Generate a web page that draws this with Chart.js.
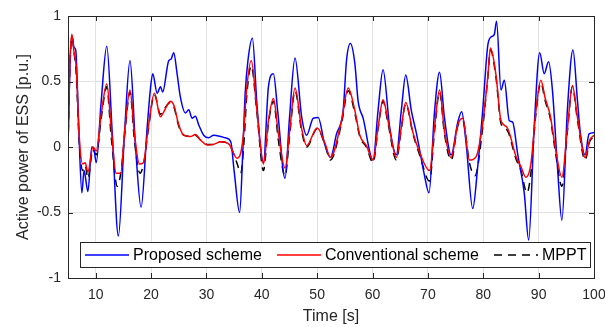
<!DOCTYPE html>
<html>
<head>
<meta charset="utf-8">
<script src="https://cdn.jsdelivr.net/npm/chart.js@4.4.1/dist/chart.umd.min.js"></script>
<style>
  html, body { margin: 0; padding: 0; background: #fff; }
  #wrap { width: 605px; height: 327px; }
</style>
</head>
<body>
<div id="wrap"><canvas id="essChart" width="605" height="327"></canvas></div>
<script>
// values
const xTicks = [10, 20, 30, 40, 50, 60, 70, 80, 90, 100];
const yTicks = [-1, -0.5, 0, 0.5, 1];

const proposedT = [5.0, 5.3, 5.7, 6.1, 6.4, 6.9, 7.5, 7.9, 8.6, 9.3, 9.7, 10.1, 11.0, 12.0, 13.0, 14.1, 15.2, 16.2, 17.2, 18.2,
  19.3, 19.9, 20.3, 21.1, 21.7, 22.1, 23.2, 23.6, 24.1, 24.7, 25.3, 26.2, 26.8, 27.4, 28.0, 28.6, 29.5, 30.4, 31.3, 32.6,
  33.4, 34.4, 35.0, 36.0, 36.6, 37.0, 37.5, 38.3, 39.1, 39.7, 40.3, 41.2, 42.1, 42.9, 44.2, 45.0, 46.0, 47.2, 48.1, 49.3,
  50.2, 51.3, 52.4, 53.5, 54.7, 55.3, 56.0, 56.8, 57.4, 58.3, 60.1, 61.0, 61.9, 63.1, 64.3, 65.2, 66.0, 67.0, 67.9, 68.5,
  69.3, 70.2, 71.2, 72.1, 73.0, 74.2, 75.4, 76.1, 76.9, 78.1, 79.0, 79.9, 80.8, 81.4, 82.0, 82.4, 83.2, 83.8, 84.7, 85.3,
  86.2, 87.4, 88.2, 89.2, 90.2, 91.0, 91.8, 92.5, 93.4, 94.2, 95.2, 96.2, 97.0, 97.5, 98.4, 99.1, 100.0];
const proposedP = [0.0, 0.55, 0.85, 0.76, 0.74, 0.2, -0.35, -0.18, -0.34, 0.0, -0.02, -0.12, 0.35, 0.77, 0.1, -0.68, 0.1, 0.66, 0.0, -0.46,
  0.15, 0.45, 0.56, 0.41, 0.46, 0.42, 0.66, 0.67, 0.72, 0.56, 0.38, 0.26, 0.285, 0.22, 0.235, 0.17, 0.09, 0.07, 0.09, 0.08,
  0.07, 0.04, -0.18, -0.5, 0.0, 0.41, 0.66, 0.83, 0.34, 0.03, -0.12, 0.46, 0.56, 0.26, -0.24, 0.22, 0.68, 0.23, 0.09, 0.22,
  0.225, 0.03, -0.08, 0.1, 0.28, 0.66, 0.79, 0.64, 0.35, 0.22, -0.1, 0.28, 0.59, 0.15, -0.06, 0.28, 0.55, 0.28, 0.11, -0.02,
  -0.2, -0.35, 0.27, 0.57, 0.22, -0.06, 0.19, 0.27, 0.03, -0.47, -0.15, 0.28, 0.77, 0.84, 0.86, 0.96, 0.435, 0.51, 0.2, 0.19,
  -0.05, -0.35, -0.71, 0.155, 0.72, 0.56, 0.65, 0.43, -0.15, -0.56, 0.29, 0.74, 0.36, 0.12, -0.06, 0.1, 0.11];

const conventionalT = [5.0, 5.3, 5.7, 6.1, 6.5, 7.0, 7.65, 8.1, 8.6, 9.5, 10.1, 11.0, 12.0, 12.8, 13.7, 14.5, 15.3, 16.2, 17.0, 17.9,
  18.6, 19.5, 20.6, 21.7, 22.2, 23.5, 24.1, 25.0, 25.9, 27.1, 28.0, 29.0, 30.2, 31.3, 32.6, 34.1, 35.5, 36.0, 36.7, 37.2,
  38.1, 39.1, 40.3, 41.2, 42.1, 43.0, 44.2, 45.1, 46.0, 47.2, 48.1, 50.0, 51.4, 52.4, 54.4, 55.6, 56.8, 57.7, 58.9, 60.1,
  61.0, 61.9, 62.8, 64.3, 65.2, 66.0, 67.3, 68.5, 70.3, 71.2, 72.1, 73.0, 74.2, 75.4, 76.3, 77.5, 78.7, 79.9, 80.8, 81.3,
  82.3, 83.2, 84.3, 85.9, 86.8, 87.7, 88.6, 89.5, 90.4, 91.2, 92.1, 93.0, 94.2, 95.2, 96.1, 97.0, 98.4, 99.2, 100.0];
const conventionalP = [0.0, 0.6, 0.86, 0.72, 0.6, 0.1, -0.13, -0.12, -0.19, 0.0, -0.03, 0.25, 0.48, 0.15, -0.2, -0.2, 0.15, 0.435, 0.1, -0.13,
  -0.12, 0.15, 0.41, 0.23, 0.26, 0.35, 0.32, 0.17, 0.09, 0.08, 0.095, 0.05, 0.015, 0.02, 0.04, 0.02, -0.085, -0.07, 0.1, 0.41,
  0.66, 0.29, -0.13, 0.2, 0.37, 0.1, -0.16, 0.15, 0.45, 0.14, 0.01, 0.145, 0.03, -0.08, 0.2, 0.45, 0.28, 0.09, 0.01, -0.1,
  0.15, 0.36, 0.2, -0.08, 0.15, 0.34, 0.11, -0.04, -0.18, 0.15, 0.435, 0.12, -0.08, 0.17, 0.22, -0.1, -0.075, 0.18, 0.53, 0.755,
  0.55, 0.2, 0.15, -0.07, -0.15, -0.23, -0.13, 0.27, 0.51, 0.37, 0.24, 0.0, -0.23, 0.14, 0.47, 0.23, -0.08, 0.05, 0.09];

const mpptT = [5.0, 5.3, 5.7, 6.1, 6.5, 7.0, 7.65, 8.1, 8.6, 9.5, 10.1, 11.0, 12.0, 12.8, 13.9, 14.6, 15.3, 16.2, 17.0, 18.0,
  18.7, 19.5, 20.6, 21.7, 22.2, 23.5, 24.1, 25.0, 25.9, 27.1, 28.0, 29.0, 30.2, 31.3, 32.6, 34.1, 35.5, 36.2, 36.8, 37.3,
  38.1, 39.1, 40.3, 41.2, 42.1, 43.0, 44.2, 45.1, 46.0, 47.2, 48.1, 50.0, 51.4, 52.4, 54.4, 55.6, 56.8, 57.7, 58.9, 60.1,
  61.0, 61.9, 62.8, 64.3, 65.2, 66.0, 67.3, 68.5, 70.3, 71.2, 72.1, 73.0, 74.2, 75.4, 76.3, 77.5, 78.5, 79.9, 80.8, 81.3,
  82.3, 83.2, 84.3, 85.9, 86.8, 87.9, 88.6, 89.5, 90.4, 91.2, 92.1, 93.0, 94.2, 95.2, 96.1, 97.0, 98.4, 99.2, 100.0];
const mpptP = [0.0, 0.55, 0.84, 0.72, 0.55, 0.05, -0.18, -0.14, -0.24, -0.02, -0.06, 0.22, 0.46, 0.08, -0.3, -0.18, 0.12, 0.42, 0.05, -0.2,
  -0.12, 0.13, 0.4, 0.25, 0.28, 0.34, 0.31, 0.16, 0.09, 0.08, 0.09, 0.05, 0.02, 0.02, 0.04, 0.02, -0.12, -0.2, 0.05, 0.4,
  0.62, 0.27, -0.18, 0.18, 0.35, 0.05, -0.22, 0.12, 0.43, 0.12, 0.0, 0.14, 0.02, -0.1, 0.18, 0.43, 0.26, 0.08, 0.0, -0.12,
  0.14, 0.35, 0.18, -0.1, 0.14, 0.33, 0.1, -0.06, -0.26, 0.12, 0.42, 0.1, -0.1, 0.16, 0.2, -0.12, -0.22, 0.15, 0.52, 0.74,
  0.53, 0.18, 0.13, -0.09, -0.18, -0.35, -0.2, 0.25, 0.49, 0.35, 0.22, -0.03, -0.3, 0.12, 0.46, 0.21, -0.1, 0.04, 0.08];

function pts(t, v) {
  return t.map((x, i) => ({ x: x, y: v[i] }));
}

const axisColor = '#262626';
const fontFam = '"Liberation Sans", Arial, sans-serif';

// matlab style box, inward ticks and legend inside the axes
const matlabBox = {
  id: 'matlabBox',
  afterDraw(chart) {
    const ctx = chart.ctx;
    const a = chart.chartArea;
    const xs = chart.scales.x, ys = chart.scales.y;
    ctx.save();
    ctx.strokeStyle = axisColor;
    ctx.lineWidth = 1;
    ctx.beginPath();
    xTicks.forEach(v => {
      const px = Math.round(xs.getPixelForValue(v)) + 0.5;
      ctx.moveTo(px, a.bottom); ctx.lineTo(px, a.bottom - 5);
      ctx.moveTo(px, a.top); ctx.lineTo(px, a.top + 5);
    });
    yTicks.forEach(v => {
      const py = Math.round(ys.getPixelForValue(v)) + 0.5;
      ctx.moveTo(a.left, py); ctx.lineTo(a.left + 5, py);
      ctx.moveTo(a.right, py); ctx.lineTo(a.right - 5, py);
    });
    ctx.stroke();
    ctx.strokeRect(Math.round(a.left) + 0.5, Math.round(a.top) + 0.5,
      Math.round(a.right - a.left), Math.round(a.bottom - a.top));

    // legend box
    const lx = 80, ly = 242, lw = 510, lh = 25;
    ctx.fillStyle = '#fff';
    ctx.fillRect(lx, ly, lw, lh);
    ctx.strokeRect(lx + 0.5, ly + 0.5, lw, lh);
    const starts = [85, 277, 494];
    ctx.font = '16px ' + fontFam;
    ctx.textBaseline = 'middle';
    chart.data.datasets.forEach((ds, i) => {
      const sx = starts[i], cy = ly + lh / 2 + 0.5;
      ctx.strokeStyle = ds.borderColor;
      ctx.lineWidth = 1.5;
      ctx.setLineDash(ds.borderDash || []);
      ctx.beginPath();
      ctx.moveTo(sx, cy); ctx.lineTo(sx + 44, cy);
      ctx.stroke();
      ctx.setLineDash([]);
      ctx.fillStyle = '#000';
      ctx.fillText(ds.label, sx + 48, cy + 1);
    });
    ctx.restore();
  }
};

new Chart(document.getElementById('essChart'), {
  type: 'line',
  data: {
    datasets: [
      { label: 'Proposed scheme', data: pts(proposedT, proposedP), borderColor: '#0000ff', order: 2 },
      { label: 'Conventional scheme', data: pts(conventionalT, conventionalP), borderColor: '#ff0000', order: 1 },
      { label: 'MPPT', data: pts(mpptT, mpptP), borderColor: '#000000', borderDash: [8, 6], order: 3 }
    ]
  },
  options: {
    responsive: false,
    animation: false,
    layout: { padding: { top: 16, right: 11, left: 0, bottom: 0 } },
    elements: {
      point: { radius: 0 },
      line: { borderWidth: 1.5, cubicInterpolationMode: 'monotone', fill: false }
    },
    plugins: { legend: { display: false }, tooltip: { enabled: false } },
    scales: {
      x: {
        type: 'linear', min: 5, max: 100,
        afterBuildTicks: s => { s.ticks = xTicks.map(v => ({ value: v })); },
        afterFit: s => { s.height = 49; s.paddingRight = 0; s.paddingLeft = 0; },
        grid: { color: '#e3e3e3', drawTicks: false },
        border: { display: false },
        ticks: { color: axisColor, font: { family: fontFam, size: 14 }, padding: 9, maxRotation: 0 },
        title: { display: true, text: 'Time [s]', color: axisColor, font: { family: fontFam, size: 16 }, padding: { top: 0, bottom: 1 } }
      },
      y: {
        type: 'linear', min: -1, max: 1,
        afterBuildTicks: s => { s.ticks = yTicks.map(v => ({ value: v })); },
        afterFit: s => { s.width = 68; s.paddingTop = 0; s.paddingBottom = 0; },
        grid: { color: '#e3e3e3', drawTicks: false },
        border: { display: false },
        ticks: { color: axisColor, font: { family: fontFam, size: 14 }, padding: 7, callback: v => String(v) },
        title: { display: true, text: 'Active power of ESS [p.u.]', color: axisColor, font: { family: fontFam, size: 16 }, padding: { top: 14, bottom: 0 } }
      }
    }
  },
  plugins: [matlabBox]
});
</script>
</body>
</html>
